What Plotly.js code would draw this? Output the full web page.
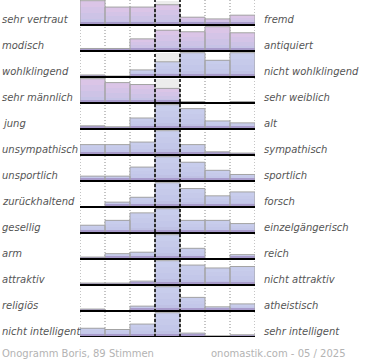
<!DOCTYPE html>
<html><head><meta charset="utf-8">
<script src="https://cdn.plot.ly/plotly-3.0.1.min.js"></script>
<style>html,body{margin:0;padding:0;background:#fff}#chart{width:370px;height:360px}</style>
</head><body><div id="chart"></div>
<script>
// Scale positions 1..7 (left pole -> right pole)
const categories = [0, 1, 2, 3, 4, 5, 6];
const leftLabels = ["sehr vertraut","modisch","wohlklingend","sehr männlich","jung","unsympathisch","unsportlich","zurückhaltend","gesellig","arm","attraktiv","religiös","nicht intelligent"];
const rightLabels = ["fremd","antiquiert","nicht wohlklingend","sehr weiblich","alt","sympathisch","sportlich","forsch","einzelgängerisch","reich","nicht attraktiv","atheistisch","sehr intelligent"];
// relative vote shares per row
const vertraut     = [24, 17.7, 17.7, 20, 7.7, 6, 9.7];
const modisch      = [2.5, 2.5, 12, 20.5, 19, 24, 18];
const wohlklingend = [2, 1, 7, 15, 24, 16.5, 24];
const maennlich    = [25, 21, 19, 15, 1.5, 0, 1.5];
const jung         = [3.3, 2.3, 11.3, 25, 21, 8.3, 6.3];
const unsympathisch= [10.7, 10.7, 13.3, 25, 10.7, 3.3, 2];
const unsportlich  = [5, 5, 14.3, 25, 19.3, 11, 6.7];
const zurueck      = [0, 5, 10, 25, 19, 11.5, 15.5];
const gesellig     = [8, 13, 20.7, 25, 13, 13, 9.7];
const arm          = [2, 5.5, 7, 25, 11, 0, 4.5];
const attraktiv    = [2, 2, 4, 25, 20.5, 17.5, 19];
const religioes    = [2, 0, 5, 25, 14, 4.3, 7.3];
const intelligent  = [9, 7.7, 13.3, 25, 4, 1.3, 2.3];
// light grey shade behind the neutral column
const neutralShade = [24, 0, 24, 25, 0, 0, 0, 0, 0, 0, 0, 0, 0];

const rows = [vertraut, modisch, wohlklingend, maennlich, jung, unsympathisch, unsportlich, zurueck, gesellig, arm, attraktiv, religioes, intelligent];
const nRows = rows.length;
const FULL = 0.935;
const pinkRows = [0, 1, 3];
const blueShades = ['#bfc1e4','#c3c7e9','#c6caea','#c8cdec'];
const pinkShades = ['#c6c3e6','#cdc3e6','#d4c4e7','#dbc5e7'];

let xs = [], hs = [], bases = [], rowIdx = [];
rows.forEach((r, i) => {
  const mx = Math.max(...r);
  r.forEach((v, j) => {
    xs.push(categories[j]); hs.push(v / mx * FULL); bases.push(nRows - 1 - i); rowIdx.push(i);
  });
});

const traces = [];
traces.push({type:'bar', x: neutralShade.map(()=>3),
  y: neutralShade.map((v,i)=> v ? v/Math.max(...rows[i])*FULL : 0),
  base: neutralShade.map((v,i)=> nRows-1-i), width: 1,
  marker:{color:'#ececec', line:{width:0}}, hoverinfo:'skip'});
const N = 4;
for (let k = 0; k < N; k++) {
  traces.push({type:'bar', x: xs, y: hs.map(h=>h/N), base: hs.map((h,idx)=>bases[idx] + h*k/N), width: 1,
    marker:{color: rowIdx.map(i => (pinkRows.includes(i) ? pinkShades : blueShades)[k]), line:{width:0}}, hoverinfo:'skip'});
}
traces.push({type:'bar', x: xs, y: hs.map(h=>Math.min(h, 0.11)), base: bases, width: 1,
  marker:{color:'#a89bcb', line:{width:0}}, hoverinfo:'skip'});
traces.push({type:'bar', x: xs, y: hs, base: bases, width: 1,
  marker:{color:'rgba(0,0,0,0)', line:{width:1, color:'#a3a3a3'}}, hoverinfo:'skip'});

const shapes = [];
[-0.5, 0.5, 1.5, 4.5, 5.5, 6.5].forEach(x => shapes.push({type:'line', xref:'x', yref:'paper', x0:x, x1:x, y0:0, y1:1, layer:'below', line:{color:'#8a8a8a', width:1, dash:'1px,2px'}}));
for (let i = 0; i < nRows; i++) {
  const b = nRows - 1 - i;
  shapes.push({type:'line', xref:'x', yref:'y', x0:-0.5, x1:6.5, y0:b, y1:b, line:{color:'#000', width:2}});
}
[2.5, 3.5].forEach(x => shapes.push({type:'line', xref:'x', yref:'paper', x0:x, x1:x, y0:0, y1:1, line:{color:'#000', width:1.5, dash:'3px,2px'}}));

const annotations = [];
const lblFont = {family:'DejaVu Sans', size:10, color:'#555', style:'italic'};
for (let i = 0; i < nRows; i++) {
  const b = nRows - 1 - i;
  annotations.push({xref:'paper', yref:'y', x:-80/175, y:b+0.2, xanchor:'left', yanchor:'middle', text:leftLabels[i], showarrow:false, font:lblFont});
  annotations.push({xref:'paper', yref:'y', x:(262-80)/175, y:b+0.2, xanchor:'left', yanchor:'middle', text:rightLabels[i], showarrow:false, font:lblFont});
}
const footFont = {family:'DejaVu Sans', size:10, color:'#b3b3b3'};
annotations.push({xref:'paper', yref:'paper', x:-80/175, y:-16/337, xanchor:'left', yanchor:'middle', text:'Onogramm Boris, 89 Stimmen', showarrow:false, font:footFont});
annotations.push({xref:'paper', yref:'paper', x:(348-80)/175, y:-16/337, xanchor:'right', yanchor:'middle', text:'onomastik.com - 05 / 2025', showarrow:false, font:footFont});

const layout = {
  width:370, height:360, margin:{l:80, r:115, t:0, b:23},
  paper_bgcolor:'#fff', plot_bgcolor:'#fff', showlegend:false, barmode:'overlay', bargap:0,
  xaxis:{range:[-0.5, 6.5], showgrid:false, zeroline:false, showticklabels:false, ticks:'', fixedrange:true},
  yaxis:{range:[0, 337/26], showgrid:false, zeroline:false, showticklabels:false, ticks:'', fixedrange:true},
  shapes, annotations
};
Plotly.newPlot('chart', traces, layout, {displayModeBar:false, staticPlot:true});
</script></body></html>
